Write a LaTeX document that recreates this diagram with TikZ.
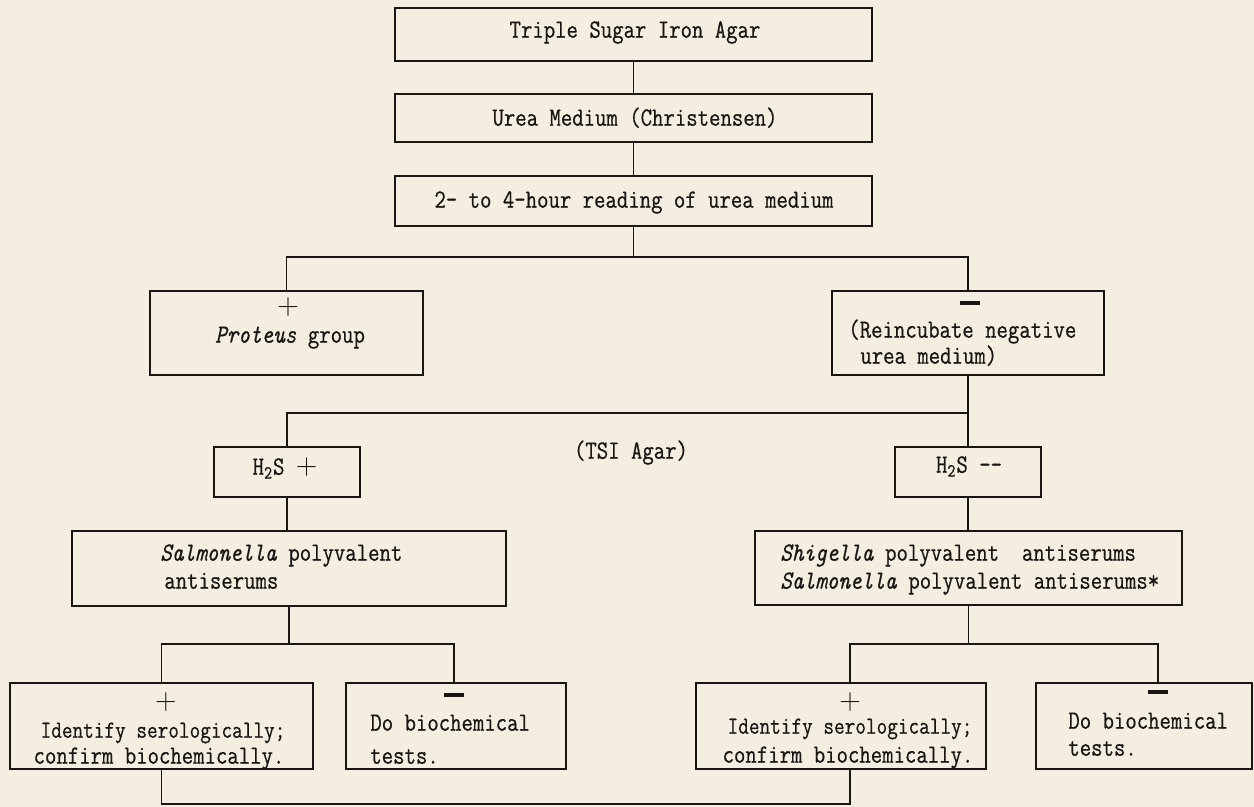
\documentclass[tikz,border=0pt]{standalone}
\usepackage{fontspec}
\setmonofont[FakeStretch=0.84,FakeBold=0.6]{Latin Modern Mono}
\definecolor{paper}{RGB}{243,238,223}
\definecolor{ink}{RGB}{25,22,20}
\newcommand{\plussym}{{\rmfamily\fontsize{17}{17}\selectfont +}}
\newcommand{\minussym}{\rule{0.4cm}{1.8pt}}
\begin{document}
\begin{tikzpicture}[x=0.02cm,y=-0.02cm,
  box/.style={draw=ink,line width=1.2pt,inner sep=0pt,anchor=center},
  conn/.style={draw=ink,line width=0.8pt},
  txt/.style={inner sep=0pt,text=ink,font=\ttfamily\fontsize{15}{17}\selectfont,text height=10pt,text depth=3.5pt},
  txtw/.style={txt,anchor=west},
  sym/.style={inner sep=0pt,text=ink},
  plusn/.style={sym,text height=9pt,text depth=0.5pt}]
\fill[paper] (0,0) rectangle (1254,807);
\useasboundingbox (0,0) rectangle (1254,807);

% boxes
\node[box,minimum width=9.54cm,minimum height=1.06cm] (t1) at (633.5,34.5) {};
\node[box,minimum width=9.54cm,minimum height=0.96cm] (t2) at (633.5,118) {};
\node[box,minimum width=9.54cm,minimum height=1.0cm] (t3) at (633.5,201) {};
\node[box,minimum width=5.46cm,minimum height=1.68cm] (prot) at (286.5,333) {};
\node[box,minimum width=5.44cm,minimum height=1.68cm] (reinc) at (968,333) {};
\node[box,minimum width=2.92cm,minimum height=1.0cm] (h2sp) at (287,472) {};
\node[box,minimum width=2.92cm,minimum height=1.0cm] (h2sm) at (968,472) {};
\node[box,minimum width=8.68cm,minimum height=1.5cm] (salm) at (289,568.5) {};
\node[box,minimum width=8.54cm,minimum height=1.48cm] (shig) at (968.5,568) {};
\node[box,minimum width=6.06cm,minimum height=1.72cm] (lid) at (161.5,726) {};
\node[box,minimum width=4.4cm,minimum height=1.72cm] (ldo) at (456,726) {};
\node[box,minimum width=5.8cm,minimum height=1.72cm] (rid) at (841,726) {};
\node[box,minimum width=4.32cm,minimum height=1.72cm] (rdo) at (1144,726) {};

% texts
\node[txt] (x1) at (635,32) {Triple Sugar Iron Agar};
\node[txt] (x2) at (635,120) {Urea Medium (Christensen)};
\node[txt] (x3) at (634,202) {2- to 4-hour reading of urea medium};
\node[plusn] (p1) at (288,307) {\plussym};
\node[txt] (x4) at (290,337) {\textit{Proteus} group};
\node[sym] (m1) at (970,303) {\minussym};
\node[txtw] (x5) at (848,332) {(Reincubate negative};
\node[txtw] (x6) at (860,358) {urea medium)};
\node[txt] (tsi) at (631,453) {(TSI Agar)};
\node[txt] (x7) at (285,469) {H\textsubscript{2}S \plussym};
\node[txt] (x8) at (969,467) {H\textsubscript{2}S --};
\node[txtw] (x9) at (160,555) {\textit{Salmonella} polyvalent};
\node[txtw] (x10) at (164,583) {antiserums};
\node[txtw] (x11) at (780,555) {\textit{Shigella} polyvalent\ \ antiserums};
\node[txtw] (x12) at (780,583) {\textit{Salmonella} polyvalent antiserums*};
\node[plusn] (p2) at (166,702) {\plussym};
\node[txt,font=\ttfamily\fontsize{14}{17}\selectfont] (x13) at (163,732) {Identify serologically;};
\node[txt] (x14) at (159,758) {confirm biochemically.};
\node[sym] (m2) at (454,695) {\minussym};
\node[txtw] (x15) at (370,725) {Do biochemical};
\node[txtw] (x16) at (370,758) {tests.};
\node[plusn] (p3) at (850,702) {\plussym};
\node[txt,font=\ttfamily\fontsize{14}{17}\selectfont] (x17) at (850,728) {Identify serologically;};
\node[txt] (x18) at (848,757) {confirm biochemically.};
\node[sym] (m3) at (1158,692) {\minussym};
\node[txtw] (x19) at (1068,723) {Do biochemical};
\node[txtw] (x20) at (1068,750) {tests.};

% junctions
\coordinate (j1) at (633.5,257);
\coordinate (j2) at (968,413);
\coordinate (j3) at (289,644);
\coordinate (j4) at (968.5,644);
\coordinate (j5) at (161.5,804);

% connectors
\draw[conn] (t1.south) -- (t2.north);
\draw[conn] (t2.south) -- (t3.north);
\draw[conn] (t3.south) -- (j1);
\draw[conn] (prot.north) |- (j1) -| (reinc.north);
\draw[conn] (reinc.south) -- (j2);
\draw[conn] (j2) -| (h2sp.north);
\draw[conn] (j2) -- (h2sm.north);
\draw[conn] (h2sp.south) -- (h2sp.south |- salm.north);
\draw[conn] (h2sm.south) -- (h2sm.south |- shig.north);
\draw[conn] (salm.south) -- (j3);
\draw[conn] (lid.north) |- (j3) -| ([xshift=-0.04cm]ldo.north);
\draw[conn] (shig.south) -- (j4);
\draw[conn] ([xshift=0.18cm]rid.north) |- (j4) -| ([xshift=0.28cm]rdo.north);
\draw[conn] (lid.south) -- (j5) -| ([xshift=0.18cm]rid.south);
\end{tikzpicture}
\end{document}
